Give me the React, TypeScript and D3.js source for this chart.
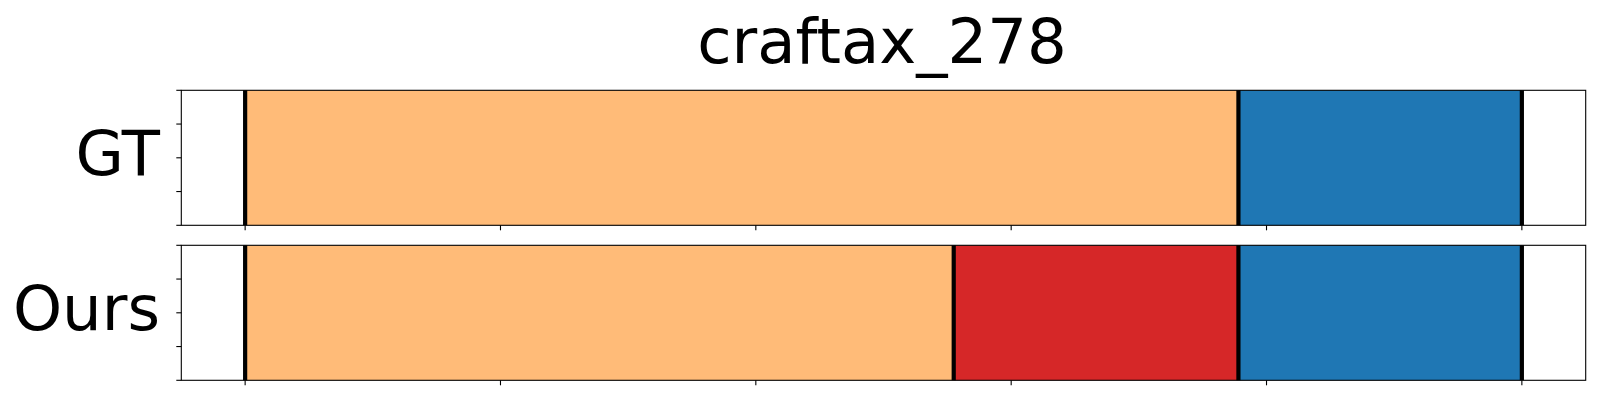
import * as d3 from "d3";

// segment boundaries in steps, one list per row
const rowNames = ["GT", "Ours"];
const gtBounds = [0, 77.8, 100];
const gtLabels = ["craft", "place"];
const oursBounds = [0, 55.5, 77.8, 100];
const oursLabels = ["craft", "mine", "place"];
const xTicks = [0, 20, 40, 60, 80, 100];
const yTicks = [0, 0.25, 0.5, 0.75, 1];
const title = "craftax_278";

const colors: Record<string, string> = {
  craft: "#ffbb78",
  mine: "#d62728",
  place: "#1f77b4",
};

const W = 1600;
const H = 400;
const margin = { left: 181.3, right: W - 1585.7 };
const rows = [
  { name: rowNames[0], bounds: gtBounds, labels: gtLabels, top: 90.3, bottom: 225.3 },
  { name: rowNames[1], bounds: oursBounds, labels: oursLabels, top: 245.3, bottom: 380.3 },
];

export default function App() {
  const x = d3.scaleLinear().domain([-5, 105]).range([margin.left, W - margin.right]);
  const font = "DejaVu Sans, sans-serif";

  return (
    <svg width={W} height={H} style={{ position: "absolute", left: 0, top: 0, background: "#fff" }}>
      <text x={882} y={62.5} textAnchor="middle" fontFamily={font} fontSize={62.5} fill="#000">
        {title}
      </text>
      {rows.map((r) => {
        const y = d3.scaleLinear().domain([0, 1]).range([r.bottom, r.top]);
        const segs = r.labels.map((l, i) => ({ l, x0: r.bounds[i], x1: r.bounds[i + 1] }));
        return (
          <g key={r.name}>
            {segs.map((s, i) => (
              <rect
                key={i}
                x={x(s.x0)}
                y={r.top}
                width={x(s.x1) - x(s.x0)}
                height={r.bottom - r.top}
                fill={colors[s.l]}
              />
            ))}
            {r.bounds.map((b, i) => (
              <line key={"b" + i} x1={x(b)} x2={x(b)} y1={r.top} y2={r.bottom} stroke="#000" strokeWidth={4.2} />
            ))}
            <rect
              x={x.range()[0]}
              y={r.top}
              width={x.range()[1] - x.range()[0]}
              height={r.bottom - r.top}
              fill="none"
              stroke="#000"
              strokeWidth={1.1}
            />
            {xTicks.map((t) => (
              <line key={"xt" + t} x1={x(t)} x2={x(t)} y1={r.bottom} y2={r.bottom + 5} stroke="#000" strokeWidth={1.1} />
            ))}
            {yTicks.map((t) => (
              <line
                key={"yt" + t}
                x1={x.range()[0] - 5}
                x2={x.range()[0]}
                y1={y(t)}
                y2={y(t)}
                stroke="#000"
                strokeWidth={1.1}
              />
            ))}
            <text
              x={160}
              y={(r.top + r.bottom) / 2 + 17.5}
              textAnchor="end"
              fontFamily={font}
              fontSize={62.5}
              fill="#000"
            >
              {r.name}
            </text>
          </g>
        );
      })}
    </svg>
  );
}
